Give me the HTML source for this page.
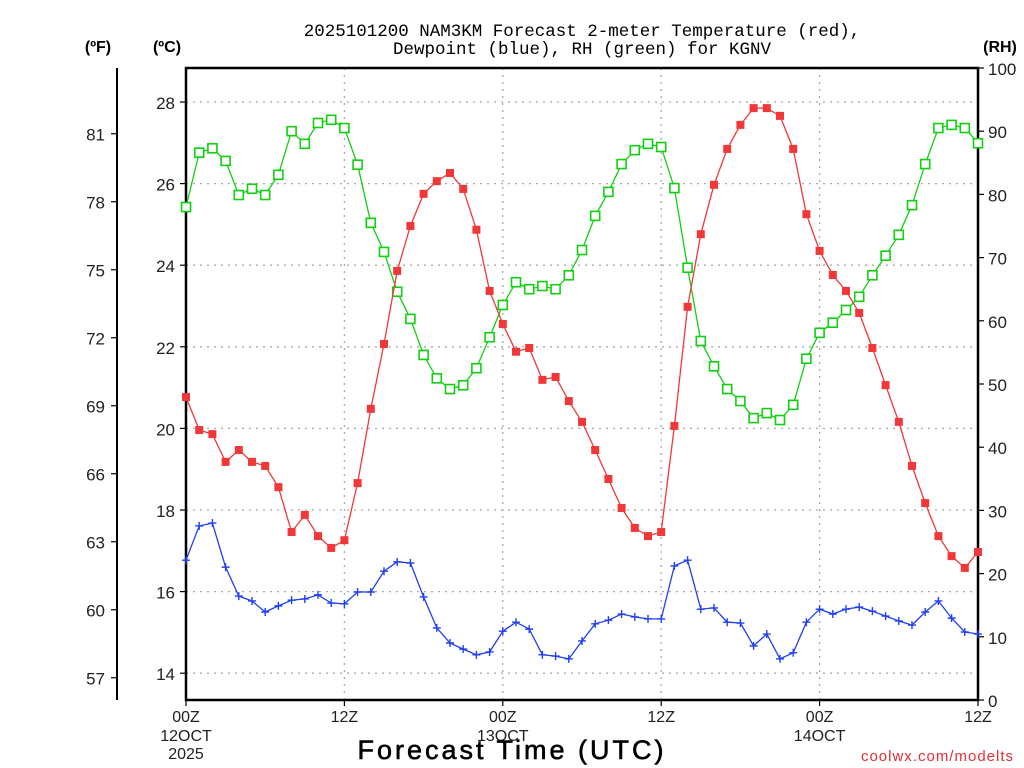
<!DOCTYPE html>
<html><head><meta charset="utf-8">
<style>
html,body{margin:0;padding:0;background:#fff;}
svg{display:block;font-family:"Liberation Sans",sans-serif;}
</style></head>
<body>
<svg id="chart" width="1024" height="768" viewBox="0 0 1024 768" xmlns="http://www.w3.org/2000/svg">
<text x="582" y="36" font-size="17.5" font-family="Liberation Mono, monospace" text-anchor="middle" fill="#000">2025101200 NAM3KM Forecast 2-meter Temperature (red),</text>
<text x="582" y="54" font-size="17.5" font-family="Liberation Mono, monospace" text-anchor="middle" fill="#000">Dewpoint (blue), RH (green) for KGNV</text>
<text x="98" y="52" font-size="16" font-weight="bold" text-anchor="middle">(ºF)</text>
<text x="167" y="52" font-size="16" font-weight="bold" text-anchor="middle">(ºC)</text>
<text x="1000" y="52" font-size="16" font-weight="bold" text-anchor="middle">(RH)</text>
<g id="grid"></g>
<g id="axes"></g>
<g id="series"></g>
<text x="512" y="759" font-size="27" text-anchor="middle" fill="#000" stroke="#000" stroke-width="0.6" letter-spacing="3">Forecast Time (UTC)</text>
<text x="1014" y="761" font-size="15" text-anchor="end" fill="#e0303a" letter-spacing="1">coolwx.com/modelts</text>
</svg>
<script>
const tempC = [20.77,19.96,19.86,19.18,19.47,19.18,19.08,18.56,17.46,17.88,17.36,17.07,17.26,18.66,20.48,22.07,23.86,24.96,25.75,26.06,26.26,25.87,24.87,23.37,22.56,21.88,21.97,21.19,21.26,20.67,20.16,19.47,18.76,18.05,17.56,17.36,17.46,20.06,22.98,24.76,25.97,26.85,27.44,27.85,27.85,27.66,26.85,25.25,24.35,23.76,23.37,22.83,21.97,21.06,20.16,19.08,18.17,17.36,16.87,16.58,16.97];
const dewC = [16.77,17.61,17.68,16.60,15.89,15.77,15.50,15.65,15.79,15.82,15.92,15.72,15.70,15.99,15.99,16.50,16.73,16.70,15.87,15.11,14.74,14.59,14.45,14.52,15.03,15.25,15.08,14.45,14.42,14.35,14.79,15.21,15.30,15.45,15.38,15.33,15.33,16.63,16.77,15.57,15.60,15.25,15.23,14.67,14.96,14.35,14.50,15.25,15.57,15.45,15.57,15.62,15.52,15.40,15.28,15.18,15.50,15.77,15.35,15.01,14.96];
const rhPct = [78.0,86.6,87.3,85.3,79.9,80.9,79.9,83.1,90.0,88.0,91.3,91.8,90.5,84.7,75.5,70.9,64.6,60.3,54.6,50.9,49.2,49.8,52.5,57.4,62.5,66.1,65.0,65.5,65.0,67.2,71.2,76.6,80.4,84.8,87.0,88.0,87.5,81.0,68.4,56.8,52.8,49.2,47.3,44.6,45.4,44.3,46.7,54.0,58.1,59.7,61.7,63.8,67.2,70.3,73.6,78.3,84.8,90.5,91.0,90.5,88.1];
const cTicks = [14,16,18,20,22,24,26,28];
const fTicks = [57,60,63,66,69,72,75,78,81];
const rhTicks = [0,10,20,30,40,50,60,70,80,90,100];
const xTickHours = [0,12,24,36,48,60];
const xTickLabels = ["00Z","12Z","00Z","12Z","00Z","12Z"];
const xDateLabels = ["12OCT","","13OCT","","14OCT",""];

const L=186,R=978,T=68,B=700;
const NS="http://www.w3.org/2000/svg";
const xS=h=>L+(R-L)*h/60;
const yC=c=>102+(28-c)*40.8;
const yF=f=>yC((f-32)/1.8);
const yRH=r=>B-(B-T)*r/100;
function mk(tag,attrs,parent,text){const e=document.createElementNS(NS,tag);for(const k in attrs)e.setAttribute(k,attrs[k]);if(text!==undefined)e.textContent=text;parent.appendChild(e);return e;}
const grid=document.getElementById('grid'),axes=document.getElementById('axes'),ser=document.getElementById('series');

cTicks.forEach(c=>{
  const y=yC(c);
  const g=mk('line',{x1:L,x2:R,y1:y,y2:y,stroke:'#aaa','stroke-width':1.3,'stroke-dasharray':'2,5'},grid);
  
  
  mk('line',{x1:L-6,x2:L,y1:y,y2:y,stroke:'#000','stroke-width':1.2},axes);
  const t=mk('text',{x:L-11,y:y+7,'font-size':17,'text-anchor':'end',fill:'#222'},axes,String(c));
  
  
});
xTickHours.forEach((h,i)=>{
  const x=xS(h);
  if(h>0&&h<60){
    const g=mk('line',{x1:x,x2:x,y1:T,y2:B,stroke:'#aaa','stroke-width':1.3,'stroke-dasharray':'2,5'},grid);
    
    
  }
  mk('line',{x1:x,x2:x,y1:B,y2:B+6,stroke:'#000','stroke-width':1.2},axes);
  const t=mk('text',{x:x,y:722,'font-size':16,'text-anchor':'middle',fill:'#222'},axes,xTickLabels[i]);
  
  
  if(xDateLabels[i]){
    const d=mk('text',{x:x,y:741,'font-size':16,'text-anchor':'middle',fill:'#222'},axes,xDateLabels[i]);
    
    
  }
});
const yr=mk('text',{x:xS(0),y:759,'font-size':16,'text-anchor':'middle',fill:'#222'},axes,'2025');



mk('line',{x1:117,x2:117,y1:T,y2:B,stroke:'#000','stroke-width':2},axes);
fTicks.forEach(f=>{
  const y=yF(f);
  mk('line',{x1:111,x2:117,y1:y,y2:y,stroke:'#000','stroke-width':1.2},axes);
  const t=mk('text',{x:105,y:y+7,'font-size':17,'text-anchor':'end',fill:'#222'},axes,String(f));
  
  
});
rhTicks.forEach(r=>{
  const y=yRH(r);
  mk('line',{x1:R,x2:R+6,y1:y,y2:y,stroke:'#000','stroke-width':1.2},axes);
  const t=mk('text',{x:988,y:y+7,'font-size':17,'text-anchor':'start',fill:'#222'},axes,String(r));
  
  
});
const fr=mk('rect',{x:L,y:T,width:R-L,height:B-T,fill:'none',stroke:'#000','stroke-width':2.5},axes);



function line(vals,yf,color,name){
  const pts=vals.map((v,i)=>xS(i).toFixed(1)+','+yf(v).toFixed(1)).join(' ');
  const p=mk('polyline',{points:pts,fill:'none',stroke:color,'stroke-width':1.3},ser);
  
  
}
line(rhPct,yRH,'#10d010','rh-line');
rhPct.forEach((v,i)=>{
  const m=mk('rect',{x:xS(i)-4.5,y:yRH(v)-4.5,width:9,height:9,fill:'#fff',stroke:'#10d010','stroke-width':1.6},ser);
  
  
});
line(tempC,yC,'#f03838','temperature-line');
tempC.forEach((v,i)=>{
  const m=mk('rect',{x:xS(i)-4,y:yC(v)-4,width:8,height:8,fill:'#f03838'},ser);
  
  
});
line(dewC,yC,'#2040f0','dewpoint-line');
dewC.forEach((v,i)=>{
  const x=xS(i),y=yC(v);
  const m=mk('path',{d:`M${x-4} ${y}H${x+4}M${x} ${y-4}V${y+4}`,stroke:'#2040f0','stroke-width':1.4,fill:'none'},ser);
  
  
});
</script>
</body></html>
